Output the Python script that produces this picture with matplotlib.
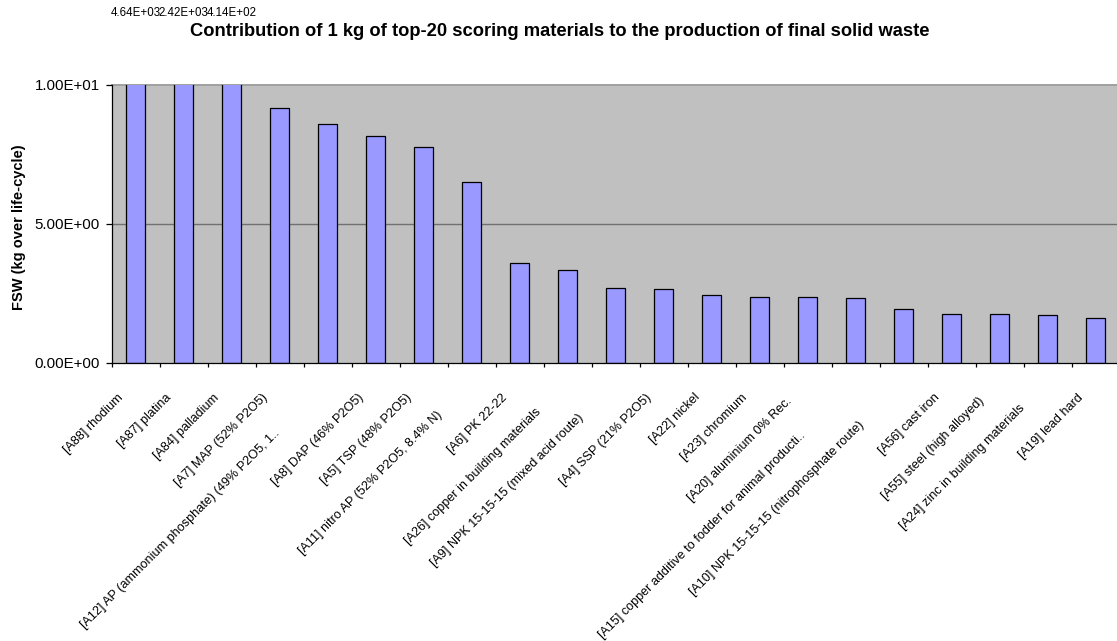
import matplotlib
matplotlib.use("Agg")
import matplotlib.pyplot as plt
from matplotlib.ticker import FixedLocator, FuncFormatter

plt.rcParams['font.family'] = ['Liberation Sans', 'DejaVu Sans']

# Final solid waste per kg of material (kg over life-cycle)
materials = [
    "[A88] rhodium",
    "[A87] platina",
    "[A84] palladium",
    "[A7] MAP (52% P2O5)",
    "[A12] AP (ammonium phosphate) (49% P2O5, 1..",
    "[A8] DAP (46% P2O5)",
    "[A5] TSP (48% P2O5)",
    "[A11] nitro AP (52% P2O5, 8.4% N)",
    "[A6] PK 22-22",
    "[A26] copper in building materials",
    "[A9] NPK 15-15-15 (mixed acid route)",
    "[A4] SSP (21% P2O5)",
    "[A22] nickel",
    "[A23] chromium",
    "[A20] aluminium 0% Rec.",
    "[A15] copper additive to fodder for animal producti..",
    "[A10] NPK 15-15-15 (nitrophosphate route)",
    "[A56] cast iron",
    "[A55] steel (high alloyed)",
    "[A24] zinc in building materials",
    "[A19] lead hard",
]
fsw = [4640.0, 2420.0, 414.0, 9.17, 8.61, 8.18, 7.77, 6.52, 3.60, 3.35,
       2.69, 2.67, 2.43, 2.38, 2.37, 2.34, 1.92, 1.75, 1.75, 1.71, 1.62]
y_ticks = [0.0, 5.0, 10.0]
y_max = 10.0

W, H = 1117, 641
fig = plt.figure(figsize=(W / 100, H / 100), dpi=100)
fig.patch.set_facecolor("white")

left_px, top_px, bottom_px = 111.7, 85.0, 362.7
cat_px = 48.0
n = len(materials)
ax = fig.add_axes([left_px / W, 1 - bottom_px / H,
                   n * cat_px / W, (bottom_px - top_px) / H])
ax.set_facecolor("#C0C0C0")

x = list(range(n))
bars = ax.bar(x, fsw, width=0.40, color="#9999FF", edgecolor="black",
              linewidth=0.9, zorder=3)
ax.set_xlim(-0.5, n - 0.5)
ax.set_ylim(0, y_max)

# horizontal gridlines
ax.axhline(5.0, color="#707070", lw=1.0, zorder=1)
ax.axhline(10.0, color="#a0a0a0", lw=1.4, zorder=1, clip_on=False)

for s in ["top", "right"]:
    ax.spines[s].set_visible(False)
for s in ["left", "bottom"]:
    ax.spines[s].set_color("black")
    ax.spines[s].set_linewidth(0.9)
    ax.spines[s].set_zorder(4)

ax.yaxis.set_major_locator(FixedLocator(y_ticks))
ax.yaxis.set_major_formatter(FuncFormatter(lambda v, p: f"{v:.2E}"))
ax.tick_params(axis="y", direction="out", length=4, width=0.9,
               labelsize=10.8, pad=4.5, colors="black")
ax.xaxis.set_major_locator(FixedLocator([i - 0.5 for i in range(n)]))
ax.tick_params(axis="x", direction="out", length=3, width=0.9,
               labelbottom=False, colors="black")

# labels for bars that run off the top of the scale
for i, v in enumerate(fsw):
    if v > y_max:
        ax.annotate(f"{v:.2E}", xy=(i, 1.0), xycoords=("data", "axes fraction"),
                    xytext=(0, 52), textcoords="offset points",
                    ha="center", va="center", fontsize=8.3, annotation_clip=False)

# rotated category labels, longer ones pushed down-left along their slope
labels = []
for i, name in enumerate(materials):
    t = ax.annotate(name, xy=(i, 0), xycoords=("data", "axes fraction"),
                    xytext=(0, 0), textcoords="offset points",
                    rotation=45, rotation_mode="anchor", ha="right", va="center",
                    fontsize=9.1, annotation_clip=False)
    labels.append(t)

fig.canvas.draw()
renderer = fig.canvas.get_renderer()
for t in labels:
    bb = t.get_window_extent(renderer)
    length_px = (bb.width + bb.height) / 2 ** 0.5 - 9
    shift = 0.34 * max(0.0, length_px - 130.0)
    dx_px = -14 - shift / 2 ** 0.5
    dy_px = -33 - shift / 2 ** 0.5
    t.set_position((dx_px * 0.72, dy_px * 0.72))

fig.text(560 / W, 1 - 31 / H,
         "Contribution of 1 kg of top-20 scoring materials to the production of final solid waste",
         ha="center", va="center", fontsize=13.2, fontweight="bold")
fig.text(19 / W, 1 - 227 / H, "FSW (kg over life-cycle)", rotation=90,
         ha="center", va="center", fontsize=10.5, fontweight="bold")

fig.savefig("out.png", dpi=100, facecolor="white")
